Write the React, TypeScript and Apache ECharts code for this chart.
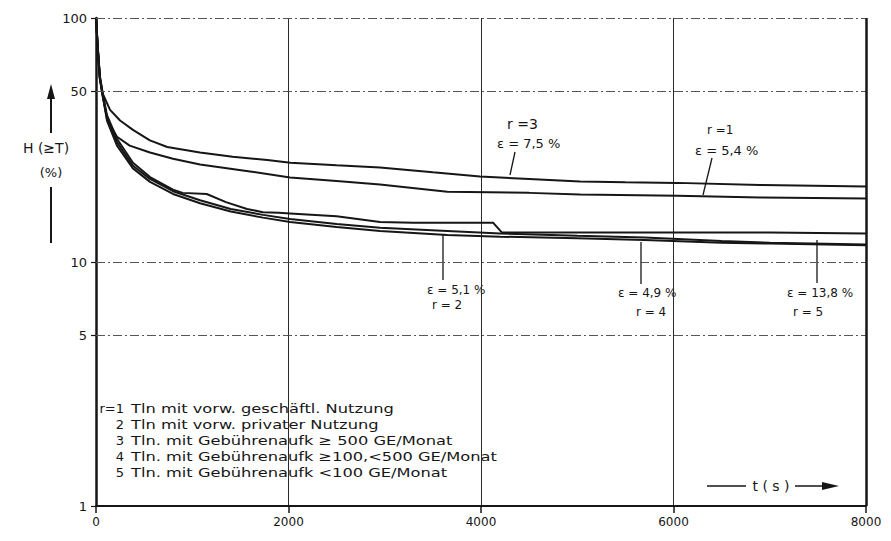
import React, { useEffect, useRef } from "react";
import * as echarts from "echarts";

// ---- Data ----
const xTicks = [0, 2000, 4000, 6000, 8000];
const yTickValues = [1, 5, 10, 50, 100];

// r = 3 (top curve)
const t3 = [0, 20, 40, 70, 146, 250, 384, 560, 740, 1080, 1420, 1780, 2020, 2500, 2950, 3500, 3990, 4500, 5030, 5500, 6040, 6900, 8000];
const h3 = [100, 74, 58, 49, 42, 38, 34.8, 31.5, 29.6, 28.1, 27.0, 26.2, 25.5, 24.9, 24.4, 23.3, 22.4, 21.9, 21.4, 21.2, 21.1, 20.7, 20.4];

// r = 1
const t1 = [0, 20, 40, 70, 120, 218, 350, 561, 800, 1081, 1600, 2016, 2500, 2951, 3650, 4500, 5030, 6040, 6900, 8000];
const h1 = [100, 74, 57, 48, 38, 32.6, 30, 28.1, 26.5, 25.1, 23.5, 22.2, 21.5, 20.8, 19.4, 19.2, 18.9, 18.7, 18.4, 18.2];

// r = 2 and r = 4 (lower cluster)
const tLow = [0, 20, 40, 70, 114, 218, 384, 561, 800, 1081, 1400, 1735, 2016, 2500, 2951, 3650, 4200, 5000, 5700, 6500, 7000, 8000];
const h2 = [100, 73, 56, 48, 38, 30, 24.2, 21.3, 19.0, 17.4, 16.1, 15.2, 14.6, 13.9, 13.4, 12.9, 12.7, 12.5, 12.3, 12.0, 11.9, 11.7];
const h4 = [100, 73, 57, 48, 39, 31, 24.8, 21.9, 19.5, 17.9, 16.5, 15.6, 15.0, 14.3, 13.8, 13.4, 13.1, 12.8, 12.6, 12.2, 12.0, 11.8];

// r = 5 (curve with the step)
const t5 = [0, 20, 40, 70, 114, 218, 384, 561, 800, 900, 1150, 1350, 1569, 1735, 1900, 2016, 2500, 2951, 3300, 3800, 4125, 4218, 5000, 6000, 7000, 8000];
const h5 = [100, 74, 57, 49, 40, 32, 25.5, 22.3, 19.8, 19.2, 19.0, 17.6, 16.5, 16.0, 15.9, 15.8, 15.4, 14.6, 14.5, 14.5, 14.5, 13.2, 13.2, 13.2, 13.2, 13.1];

const gridLevels = [5, 10, 50, 100];

const legendNums = ["r=1", "2", "3", "4", "5"];
const legendTexts = [
  "Tln mit vorw. geschäftl. Nutzung",
  "Tln mit vorw. privater Nutzung",
  "Tln. mit Gebührenaufk ≥ 500 GE/Monat",
  "Tln. mit Gebührenaufk ≥100,<500 GE/Monat",
  "Tln. mit Gebührenaufk <100 GE/Monat",
];

const zip = (t: number[], h: number[]) => t.map((v, i) => [v, h[i]]);

const FONT = "DejaVu Sans";
const INK = "#161616";

export default function App() {
  const ref = useRef<HTMLDivElement>(null);

  useEffect(() => {
    if (!ref.current) return;
    const chart = echarts.init(ref.current, undefined, { renderer: "svg" });

    const lineSeries = (name: string, data: number[][], extra: any = {}) => ({
      name,
      type: "line",
      data,
      showSymbol: false,
      symbol: "none",
      smooth: false,
      lineStyle: { color: INK, width: 2 },
      z: 3,
      ...extra,
    });

    const txt = (x: number, y: number, text: string, size = 13, align = "left", scaleX = 1) => ({
      type: "text",
      x,
      y,
      scaleX,
      style: {
        text,
        fill: INK,
        font: `${size}px "${FONT}"`,
        textAlign: align,
        textVerticalAlign: "middle",
      },
      silent: true,
    });
    const seg = (x1: number, y1: number, x2: number, y2: number, w = 1.3) => ({
      type: "line",
      shape: { x1, y1, x2, y2 },
      style: { stroke: INK, lineWidth: w },
      silent: true,
    });

    const graphics: any[] = [];
    // y axis name with arrows
    graphics.push(seg(51, 133, 51, 96, 2));
    graphics.push({
      type: "polygon",
      shape: { points: [[47, 99], [51, 84], [55, 99]] },
      style: { fill: INK },
      silent: true,
    });
    graphics.push(txt(46, 148, "H (≥T)", 14, "center"));
    graphics.push(txt(51, 172, "(%)", 13, "center"));
    graphics.push(seg(51, 187, 51, 243, 2));

    // t(s) arrow
    graphics.push(seg(707, 486, 746, 486, 1.5));
    graphics.push(txt(771, 486, "t ( s )", 14, "center"));
    graphics.push(seg(795, 486, 826, 486, 1.5));
    graphics.push({
      type: "polygon",
      shape: { points: [[822, 482], [839, 486], [822, 490]] },
      style: { fill: INK },
      silent: true,
    });

    // legend block
    const legY = [408, 424, 440, 456, 472];
    legendNums.forEach((n, i) => {
      graphics.push(txt(124, legY[i], n, 13, "right"));
      graphics.push(txt(131, legY[i], legendTexts[i], 13, "left", 1.25));
    });

    // annotations
    graphics.push(txt(507, 124, "r =3", 14));
    graphics.push(txt(497, 143, "ε = 7,5 %", 13));
    graphics.push(seg(515, 152, 510, 175));

    graphics.push(txt(707, 130, "r =1", 12));
    graphics.push(txt(695, 150, "ε = 5,4 %", 13));
    graphics.push(seg(712, 158, 703, 195));

    graphics.push(txt(427, 290, "ε = 5,1 %", 12));
    graphics.push(txt(432, 305, "r = 2", 12));
    graphics.push(seg(443, 234, 443, 280));

    graphics.push(txt(618, 293, "ε = 4,9 %", 12));
    graphics.push(txt(636, 312, "r = 4", 12));
    graphics.push(seg(641, 242, 641, 284));

    graphics.push(txt(787, 293, "ε = 13,8 %", 12));
    graphics.push(txt(793, 312, "r = 5", 12));
    graphics.push(seg(817, 240, 817, 283));

    chart.setOption({
      animation: false,
      backgroundColor: "#ffffff",
      grid: { left: 96, right: 25, top: 18, bottom: 35, containLabel: false },
      xAxis: {
        type: "value",
        min: 0,
        max: 8000,
        interval: 2000,
        axisLine: { show: true, onZero: false, lineStyle: { color: INK, width: 2 } },
        axisTick: { show: true, length: 7, lineStyle: { color: INK, width: 1.5 } },
        axisLabel: {
          color: INK,
          fontSize: 12,
          fontFamily: FONT,
          margin: 10,
          formatter: (v: number) => (xTicks.includes(v) ? String(v) : ""),
        },
        splitLine: { show: true, lineStyle: { color: "#2a2a2a", width: 1 } },
      },
      yAxis: {
        type: "log",
        logBase: 10,
        min: 1,
        max: 100,
        axisLine: { show: true, onZero: false, lineStyle: { color: INK, width: 2.5 } },
        axisTick: {
          show: true,
          length: 5,
          customValues: yTickValues,
          lineStyle: { color: INK, width: 1.2 },
        },
        axisLabel: {
          color: INK,
          fontSize: 13,
          fontFamily: FONT,
          margin: 9,
          customValues: yTickValues,
        },
        splitLine: { show: false },
        minorTick: { show: false },
      },
      series: [
        lineSeries("r=3", zip(t3, h3), {
          markLine: {
            silent: true,
            symbol: ["none", "none"],
            label: { show: false },
            lineStyle: { color: "#555", width: 1, type: [9, 3, 2, 3] },
            data: [
              ...gridLevels.map((v) => ({ yAxis: v })),
              { xAxis: 8000, lineStyle: { color: INK, width: 2.5, type: "solid" } },
            ],
          },
        }),
        lineSeries("r=1", zip(t1, h1)),
        lineSeries("r=2", zip(tLow, h2)),
        lineSeries("r=4", zip(tLow, h4)),
        lineSeries("r=5", zip(t5, h5)),
      ],
      graphic: graphics,
    });

    return () => chart.dispose();
  }, []);

  return (
    <div
      ref={ref}
      style={{ position: "fixed", left: 0, top: 0, width: 891, height: 541, background: "#fff" }}
    />
  );
}
